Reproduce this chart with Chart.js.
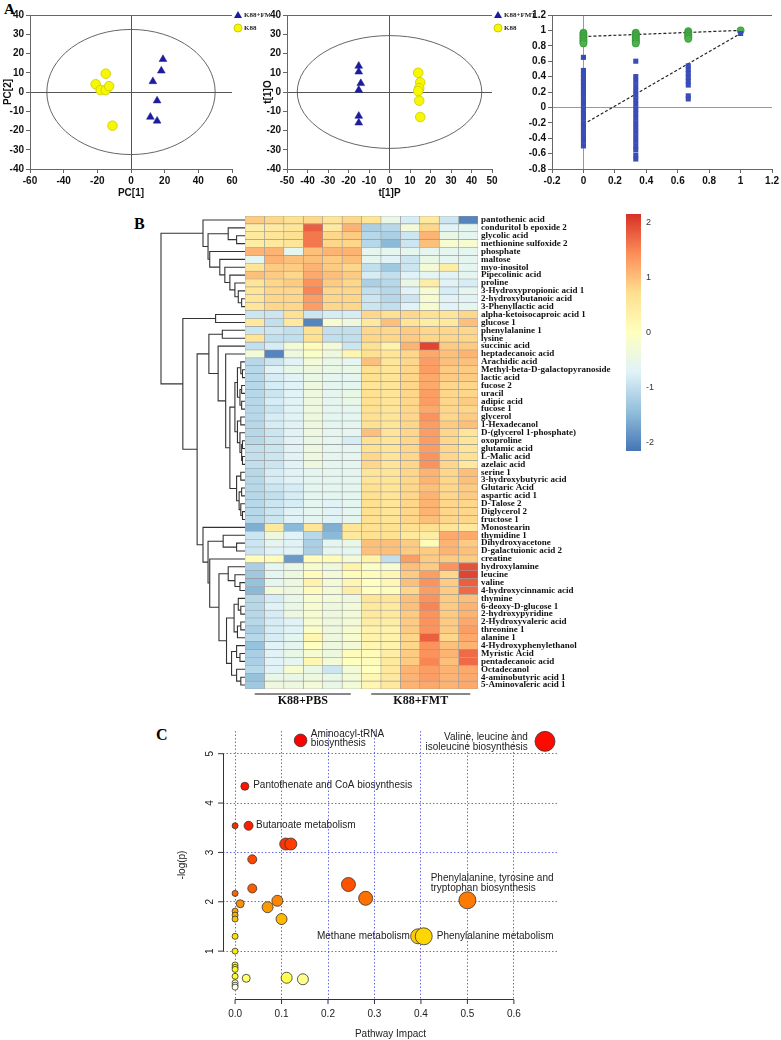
<!DOCTYPE html>
<html>
<head>
<meta charset="utf-8">
<script src="https://cdn.jsdelivr.net/npm/chart.js@4.4.1/dist/chart.umd.min.js"></script>
<style>
  body { margin: 0; background: #fff; }
  #page { position: relative; width: 781px; height: 1040px; overflow: hidden; background: #fff; }
  canvas { position: absolute; }
  .panel { position: absolute; font-family: "Liberation Serif", serif; font-weight: bold; color: #000; line-height: 1; }
</style>
</head>
<body>
<div id="page">
  <div class="panel" style="left:4px;top:2px;font-size:15px;">A</div>
  <div class="panel" style="left:134px;top:216px;font-size:16px;">B</div>
  <div class="panel" style="left:156px;top:727px;font-size:16px;">C</div>
  <canvas id="pca" width="270" height="200" style="left:0;top:0"></canvas>
  <canvas id="opls" width="280" height="200" style="left:260px;top:0"></canvas>
  <canvas id="perm" width="271" height="200" style="left:510px;top:0"></canvas>
  <canvas id="heat" width="500" height="504" style="left:130px;top:206px"></canvas>
  <canvas id="scale" width="70" height="265" style="left:600px;top:200px"></canvas>
  <canvas id="path" width="420" height="325" style="left:150px;top:715px"></canvas>
</div>
<script>
Chart.defaults.animation = false;
Chart.defaults.responsive = false;
Chart.defaults.devicePixelRatio = 1;
Chart.defaults.events = [];
Chart.defaults.font.family = "'Liberation Sans', Arial, sans-serif";
Chart.defaults.plugins.legend.display = false;
Chart.defaults.plugins.tooltip.enabled = false;

// ---- Panel A: PCA scores [PC1, PC2]
const pcaFmt = [[19, 17], [18, 11], [13, 5.5], [15.5, -4.5], [11.5, -13], [15.5, -15]];
const pcaK88 = [[-21, 4], [-15, 9.5], [-18, 1], [-15, 1], [-13, 3], [-11, -17.5]];

// OPLS-DA scores [t1P, t1O]
const oplsFmt = [[-15, 13.5], [-15, 10.5], [-14, 4.5], [-15, 1], [-15, -12.5], [-15, -16]];
const oplsK88 = [[14, 10], [15, 5], [14.5, 2], [14, 0.5], [14.5, -4.5], [15, -13]];

// permutation test
const permX = [0, 0.333, 0.667, 1];
const permR2 = [
  [0.97, 0.95, 0.93, 0.91, 0.89, 0.87, 0.85, 0.83],
  [0.97, 0.95, 0.93, 0.91, 0.89, 0.87, 0.85, 0.83],
  [0.99, 0.97, 0.95, 0.93, 0.91, 0.89],
  [1.0]
];
const permQ2 = [
  [0.65, 0.48, 0.43, 0.38, 0.33, 0.28, 0.22, 0.16, 0.10, 0.04, -0.02, -0.08, -0.14, -0.20, -0.26, -0.32, -0.38, -0.44, -0.50],
  [0.60, 0.40, 0.34, 0.28, 0.22, 0.16, 0.10, 0.04, -0.02, -0.08, -0.14, -0.20, -0.26, -0.32, -0.38, -0.44, -0.50, -0.55, -0.62, -0.67],
  [0.54, 0.49, 0.44, 0.39, 0.34, 0.29, 0.15, 0.11],
  [0.96]
];
const r2Fit = [[0, 0.92], [1, 1.0]];
const q2Fit = [[0, -0.22], [1, 0.96]];

// ---- Panel B: heatmap
const metabolites = [
  'pantothenic acid', 'conduritol b epoxide 2', 'glycolic acid', 'methionine sulfoxide 2', 'phosphate',
  'maltose', 'myo-inositol', 'Pipecolinic acid', 'proline', '3-Hydroxypropionic acid 1',
  '2-hydroxybutanoic acid', '3-Phenyllactic acid', 'alpha-ketoisocaproic acid 1', 'glucose 1', 'phenylalanine 1',
  'lysine', 'succinic acid', 'heptadecanoic acid', 'Arachidic acid', 'Methyl-beta-D-galactopyranoside',
  'lactic acid', 'fucose 2', 'uracil', 'adipic acid', 'fucose 1',
  'glycerol', '1-Hexadecanol', 'D-(glycerol 1-phosphate)', 'oxoproline', 'glutamic acid',
  'L-Malic acid', 'azelaic acid', 'serine 1', '3-hydroxybutyric acid', 'Glutaric Acid',
  'aspartic acid 1', 'D-Talose 2', 'Diglycerol 2', 'fructose 1', 'Monostearin',
  'thymidine 1', 'Dihydroxyacetone', 'D-galactuionic acid 2', 'creatine', 'hydroxylamine',
  'leucine', 'valine', '4-hydroxycinnamic acid', 'thymine', '6-deoxy-D-glucose 1',
  '2-hydroxypyridine', '2-Hydroxyvaleric acid', 'threonine 1', 'alanine 1', '4-Hydroxyphenylethanol',
  'Myristic Acid', 'pentadecanoic acid', 'Octadecanol', '4-aminobutyric acid 1', '5-Aminovaleric acid 1'
];
const samples = ['PBS1', 'PBS2', 'PBS3', 'PBS4', 'PBS5', 'PBS6', 'FMT1', 'FMT2', 'FMT3', 'FMT4', 'FMT5', 'FMT6'];
const heatValues = [
  [0.9, 0.8, 0.7, 0.8, 0.6, 0.8, 0.6, -0.5, -0.8, 0.5, -0.9, -2.0],
  [0.4, 0.5, 0.6, 1.8, 0.5, 1.1, -1.2, -1.1, -0.3, 0.8, -0.7, -0.6],
  [0.5, 0.6, 0.7, 1.6, 0.8, 0.9, -1.1, -1.2, -0.9, 1.1, -0.5, -0.6],
  [0.4, 0.5, 0.6, 1.6, 0.8, 0.8, -1.1, -1.5, -0.9, 1.0, -0.2, -0.2],
  [1.1, 1.1, -0.6, 1.0, 1.1, 1.1, -0.6, -0.6, -0.6, -0.6, -0.6, -0.6],
  [-0.6, 1.1, 1.0, 1.0, 0.9, 1.0, -0.6, -0.7, -0.9, -0.5, -0.6, -0.6],
  [0.6, 0.9, 0.9, 1.1, 0.9, 0.8, -1.0, -1.3, -0.9, -0.3, 0.4, -0.6],
  [1.0, 0.9, 0.8, 1.2, 1.0, 0.9, -0.8, -1.0, -0.7, -0.6, -0.7, -0.6],
  [0.6, 0.8, 0.9, 1.4, 0.9, 0.8, -1.2, -1.1, -0.5, 0.4, -0.7, -0.8],
  [0.6, 0.8, 0.8, 1.5, 0.8, 0.8, -1.0, -1.1, -0.7, -0.2, -0.8, -0.6],
  [0.6, 0.8, 0.8, 1.3, 0.8, 0.8, -0.9, -1.1, -0.9, -0.2, -0.7, -0.7],
  [0.6, 0.8, 0.8, 1.3, 0.8, 0.8, -0.9, -1.0, -0.7, -0.2, -0.7, -0.6],
  [-0.9, -0.9, 0.7, -0.9, -0.8, -0.8, 0.8, 0.7, 0.8, 0.7, 0.6, 0.8],
  [0.5, -1.0, 0.5, -2.0, -0.2, -0.4, 0.5, 1.0, 0.6, 0.4, 0.5, 1.0],
  [-0.9, -0.9, -1.0, 0.7, -1.0, -1.0, 0.8, 0.8, 0.9, 0.8, 0.8, 0.8],
  [0.6, -1.0, -1.0, 0.7, -1.0, -1.0, 0.8, 0.8, 0.9, 0.8, 0.8, 0.8],
  [-1.0, -0.8, -0.3, 0.1, -0.3, -0.9, 0.7, 0.3, 1.1, 2.0, 0.9, 0.9],
  [-0.3, -2.0, -0.4, -0.1, -0.4, 0.2, 0.7, 0.6, 0.8, 1.2, 1.0, 1.1],
  [-1.1, -0.9, -0.7, -0.3, -0.5, -0.6, 1.0, 0.6, 0.8, 1.3, 1.0, 1.0],
  [-1.1, -0.7, -0.5, -0.4, -0.5, -0.5, 0.7, 0.6, 0.8, 1.3, 0.9, 0.9],
  [-1.1, -0.8, -0.7, -0.5, -0.6, -0.6, 0.7, 0.6, 0.8, 1.2, 0.9, 0.9],
  [-1.1, -0.8, -0.7, -0.4, -0.6, -0.6, 0.6, 0.6, 0.8, 1.2, 0.8, 0.8],
  [-1.1, -0.9, -0.7, -0.4, -0.6, -0.5, 0.7, 0.6, 0.8, 1.3, 0.8, 0.8],
  [-1.1, -0.8, -0.7, -0.4, -0.6, -0.5, 0.7, 0.6, 0.8, 1.3, 0.8, 0.9],
  [-1.1, -0.9, -0.7, -0.4, -0.6, -0.6, 0.7, 0.6, 0.8, 1.2, 0.8, 0.8],
  [-1.1, -0.8, -0.7, -0.4, -0.6, -0.6, 0.7, 0.6, 0.8, 1.4, 0.8, 0.9],
  [-1.1, -0.8, -0.7, -0.4, -0.6, -0.6, 0.7, 0.6, 0.8, 1.3, 0.9, 1.0],
  [-1.1, -0.9, -0.7, -0.4, -0.6, -0.6, 1.0, 0.6, 0.8, 1.3, 0.8, 0.6],
  [-1.1, -0.9, -0.7, -0.5, -0.6, -0.8, 0.7, 0.6, 0.8, 1.3, 0.8, 0.6],
  [-1.0, -0.9, -0.7, -0.4, -0.6, -0.6, 0.7, 0.6, 0.8, 1.3, 0.8, 0.6],
  [-1.0, -0.9, -0.7, -0.4, -0.6, -0.6, 0.8, 0.6, 0.8, 1.4, 0.8, 0.7],
  [-1.0, -0.9, -0.7, -0.4, -0.6, -0.6, 0.8, 0.6, 0.8, 1.4, 0.8, 0.5],
  [-1.1, -0.8, -0.7, -0.6, -0.6, -0.6, 0.6, 0.6, 0.8, 1.1, 0.8, 1.0],
  [-1.1, -0.8, -0.7, -0.6, -0.6, -0.6, 0.6, 0.6, 0.8, 1.1, 0.8, 1.0],
  [-1.1, -0.9, -0.8, -0.6, -0.6, -0.6, 0.7, 0.6, 0.8, 1.0, 0.8, 0.9],
  [-1.1, -1.0, -0.8, -0.6, -0.6, -0.6, 0.7, 0.6, 0.8, 1.1, 0.8, 0.9],
  [-1.1, -0.9, -0.8, -0.6, -0.7, -0.6, 0.7, 0.6, 0.8, 1.1, 0.8, 0.8],
  [-1.1, -0.9, -0.7, -0.6, -0.7, -0.6, 0.7, 0.6, 0.8, 1.1, 0.8, 0.8],
  [-1.1, -0.9, -0.7, -0.6, -0.7, -0.6, 0.7, 0.6, 0.8, 1.0, 0.8, 0.8],
  [-1.6, 0.5, -1.5, 0.6, -1.6, 0.6, 0.7, 0.7, 0.7, 0.7, 0.6, 0.5],
  [-0.9, -0.4, -0.7, -1.1, -1.5, 0.5, 0.7, 0.7, 0.5, 0.4, 1.2, 1.2],
  [-0.9, -0.6, -0.7, -1.2, -0.6, -0.5, 1.0, 1.0, 0.9, 0.1, 1.1, 0.9],
  [-0.9, -0.7, -0.7, -1.2, -0.6, -0.6, 1.0, 1.0, 0.9, 0.9, 1.1, 1.0],
  [0.1, 0.1, -1.8, 0.1, 0.1, -0.3, 0.3, -1.0, 1.3, 0.9, 0.9, 0.9],
  [-1.2, -0.6, -0.5, -0.2, -0.4, 0.3, -0.1, -0.2, 1.0, 0.9, 1.4, 1.9],
  [-1.3, -0.6, -0.4, 0.1, -0.3, 0.1, 0.1, 0.2, 0.9, 1.3, 0.8, 2.0],
  [-1.4, -0.6, -0.4, 0.3, -0.3, 0.2, 0.0, 0.2, 1.0, 1.4, 0.9, 1.8],
  [-1.5, -0.3, -0.4, 0.1, -0.3, 0.4, 0.0, 0.1, 0.8, 1.3, 0.9, 1.7],
  [-1.1, -0.8, -0.5, -0.2, -0.3, -0.4, 0.6, 0.6, 1.0, 1.4, 0.9, 1.0],
  [-1.1, -0.7, -0.5, -0.2, -0.4, -0.3, 0.5, 0.5, 1.0, 1.5, 0.9, 1.1],
  [-1.1, -0.8, -0.4, -0.2, -0.4, -0.3, 0.5, 0.5, 0.9, 1.4, 0.9, 1.1],
  [-1.1, -0.8, -0.7, -0.2, -0.4, -0.3, 0.4, 0.4, 0.9, 1.4, 0.9, 1.2],
  [-1.2, -0.8, -0.7, -0.1, -0.4, -0.2, 0.3, 0.3, 0.9, 1.4, 0.9, 1.3],
  [-1.1, -0.8, -0.6, 0.2, -0.4, -0.2, 0.3, 0.3, 0.8, 1.8, 0.8, 1.2],
  [-1.4, -0.7, -0.6, 0.0, -0.4, -0.3, 0.2, 0.3, 0.8, 1.4, 1.0, 1.1],
  [-1.2, -0.7, -0.5, -0.2, -0.4, 0.1, 0.1, 0.4, 0.9, 1.4, 1.1, 1.7],
  [-1.2, -0.7, -0.6, 0.2, -0.3, 0.0, 0.1, 0.5, 0.9, 1.5, 1.0, 1.7],
  [-1.1, -0.7, -0.2, -0.5, -0.9, -0.3, 0.0, 0.5, 1.1, 1.3, 1.1, 1.2],
  [-1.4, -0.5, -0.5, -0.4, -0.5, -0.3, 0.2, 0.5, 1.1, 1.3, 1.1, 1.2],
  [-1.3, -0.4, -0.4, -0.3, -0.5, -0.3, 0.2, 0.5, 1.1, 1.2, 1.1, 1.2]
];
// row dendrogram: [height, left, right], leaves are row indexes
const rowTree = [10,
  [5.0, 0, [4.4, [2.0, 1, [1.0, 2, 3]], [4.2, 4, [3.0, 5, [2.4, 6, [1.8, 7, [1.2, 8, [0.8, 9, [0.4, 10, 11]]]]]]]]],
  [7.4, [3.5, 12, 13],
    [5.7,
      [4.3, [2.7, 14, 15], [3.2, 16, [2.3, 17,
        [1.8,
          [1.2, [0.9, [0.5, 18, [0.3, 19, 20]], [0.6, [0.4, 21, 22], [0.4, 23, 24]]],
                [0.9, [0.5, 25, 26], [0.6, 27, [0.4, [0.3, 28, 29], [0.3, 30, 31]]]]],
          [1.0, [0.5, 32, 33], [0.7, [0.4, 34, 35], [0.5, 36, [0.3, 37, 38]]]]]]]],
      [5.0, 39, [4.4, [2.6, 40, [1.0, 41, 42]], [4.2, 43,
        [3.1, [2.0, 44, [1.2, 45, [0.6, 46, 47]]],
          [2.2, [1.3, [0.8, 48, [0.5, 49, 50]], [0.9, [0.5, 51, 52], 53]],
                [1.6, [1.0, 54, [0.6, 55, 56]], [1.0, 57, [0.5, 58, 59]]]]]]]]]]];
const groups = [
  { name: 'K88+PBS', from: 0.5, to: 5.45 },
  { name: 'K88+FMT', from: 6.5, to: 11.6 }
];
const heatStops = ['#4575b4', '#91bfdb', '#e0f3f8', '#ffffbf', '#fee090', '#fc8d59', '#d73027'];
const heatMin = -2.16, heatMax = 2.16;
const scaleTicks = [-2, -1, 0, 1, 2];

// ---- Panel C: pathway analysis
const pathX = [0.667, 0.141, 0.021, 0.029, 0.0, 0.109, 0.120, 0.037, 0.244, 0.037, 0.0, 0.281, 0.500, 0.091, 0.011, 0.070, 0.0,
  0.0, 0.100, 0.0, 0.394, 0.406, 0.0, 0.0, 0.0, 0.0, 0.0, 0.0, 0.111, 0.024, 0.146, 0.0, 0.0, 0.0];
const pathY = [5.25, 5.27, 4.34, 3.54, 3.54, 3.17, 3.17, 2.86, 2.35, 2.27, 2.17, 2.07, 2.03, 2.02, 1.96, 1.89, 1.81,
  1.73, 1.65, 1.65, 1.30, 1.30, 1.30, 1.0, 0.72, 0.67, 0.63, 0.49, 0.46, 0.45, 0.43, 0.36, 0.31, 0.27];
const pathSize = [10, 6.3, 4, 4.5, 3, 6, 6, 4.5, 7, 4.5, 3, 7, 8.5, 5.5, 4, 5.5, 3,
  3, 5.5, 3, 7.5, 8.5, 3, 3, 3, 3, 3, 3, 5.5, 4, 5.5, 3, 3, 3];
const pathLabels = [
  { lines: ['Aminoacyl-tRNA', 'biosynthesis'], x: 0.163, y: 5.40, align: 'left' },
  { lines: ['Valine, leucine and', 'isoleucine biosynthesis'], x: 0.630, y: 5.33, align: 'right' },
  { lines: ['Pantothenate and CoA biosynthesis'], x: 0.039, y: 4.37, align: 'left' },
  { lines: ['Butanoate metabolism'], x: 0.045, y: 3.55, align: 'left' },
  { lines: ['Phenylalanine, tyrosine and', 'tryptophan biosynthesis'], x: 0.421, y: 2.47, align: 'left' },
  { lines: ['Methane metabolism'], x: 0.376, y: 1.30, align: 'right' },
  { lines: ['Phenylalanine metabolism'], x: 0.434, y: 1.30, align: 'left' }
];

// ---------- helpers
function hexRgb(h) {
  return [parseInt(h.slice(1, 3), 16), parseInt(h.slice(3, 5), 16), parseInt(h.slice(5, 7), 16)];
}
function heatColor(v) {
  const n = heatStops.length - 1;
  let t = (v - heatMin) / (heatMax - heatMin) * n;
  t = Math.max(0, Math.min(n, t));
  const i = Math.min(Math.floor(t), n - 1);
  const f = t - i;
  const a = hexRgb(heatStops[i]), b = hexRgb(heatStops[i + 1]);
  return 'rgb(' + a.map((c, k) => Math.round(c + (b[k] - c) * f)).join(',') + ')';
}
// same as R heat.colors(n)
function heatColors(n) {
  const j = Math.floor(n / 4), i = n - j;
  const out = [];
  for (let k = 0; k < i; k++) {
    const g = i > 1 ? k / (i - 1) : 0;
    out.push('rgb(255,' + Math.round(255 * g) + ',0)');
  }
  for (let k = 0; k < j; k++) {
    const s = j > 1 ? (1 - 1 / (2 * j)) - k * ((1 - 1 / j) / (j - 1)) : 0.5;
    out.push('rgb(255,255,' + Math.round(255 * (1 - s)) + ')');
  }
  return out;
}
// "1.2", "1", "0.8", "0", "-0.2"
const shortNum = v => String(Math.round(v * 10) / 10 + 0);

const axisFont = { family: "'Liberation Sans', Arial, sans-serif", size: 10, weight: 'bold' };

// ---------- Panel A decorations
const scoreDecor = {
  id: 'scoreDecor',
  afterDraw(chart, args, opts) {
    const { ctx, chartArea: a, scales: { x, y } } = chart;
    ctx.save();
    ctx.strokeStyle = '#666';
    ctx.lineWidth = 1;
    ctx.beginPath();
    ctx.moveTo(a.left, a.top + 0.5);
    ctx.lineTo(a.right, a.top + 0.5);
    ctx.stroke();
    if (opts.ellipse) {
      const cx = x.getPixelForValue(0), cy = y.getPixelForValue(0);
      const rx = x.getPixelForValue(opts.ellipse[0]) - cx;
      const ry = cy - y.getPixelForValue(opts.ellipse[1]);
      ctx.strokeStyle = '#555';
      ctx.lineWidth = 0.9;
      ctx.beginPath();
      ctx.ellipse(cx, cy, rx, ry, 0, 0, Math.PI * 2);
      ctx.stroke();
    }
    if (opts.legend) {
      const lx = a.right + 6, ly = a.top;
      ctx.fillStyle = '#1c1c9c';
      ctx.beginPath();
      ctx.moveTo(lx, ly - 4);
      ctx.lineTo(lx + 4, ly + 3);
      ctx.lineTo(lx - 4, ly + 3);
      ctx.closePath();
      ctx.fill();
      ctx.fillStyle = '#f7f700';
      ctx.strokeStyle = '#c9c900';
      ctx.beginPath();
      ctx.arc(lx, ly + 13, 4, 0, Math.PI * 2);
      ctx.fill();
      ctx.stroke();
      ctx.fillStyle = '#222';
      ctx.font = "bold 7px 'Liberation Serif', serif";
      ctx.textBaseline = 'middle';
      ctx.fillText('K88+FMT', lx + 6, ly);
      ctx.fillText('K88', lx + 6, ly + 13);
    }
    ctx.restore();
  }
};

function linAxis(min, max, step, title, fit, zeroColor, fmt) {
  const ax = {
    type: 'linear', min, max,
    ticks: { stepSize: step, font: axisFont, color: '#111', padding: 2 },
    grid: {
      color: c => (c.tick && Math.abs(c.tick.value) < 1e-9) ? zeroColor : 'rgba(0,0,0,0)',
      tickColor: '#666', tickLength: 4, lineWidth: 1
    },
    border: { display: true, color: '#666', width: 1 },
    title: { display: !!title, text: title, font: axisFont, color: '#111', padding: { top: 2, bottom: 1 } },
    afterFit: fit
  };
  if (fmt) ax.ticks.callback = fmt;
  return ax;
}

function scoreChart(id, fmt, k88, xr, yTitle, xTitle, yWidth, padRight, ellipse) {
  new Chart(document.getElementById(id), {
    type: 'scatter',
    data: {
      datasets: [
        { label: 'K88+FMT', data: fmt.map(p => ({ x: p[0], y: p[1] })), pointStyle: 'triangle', radius: 4.5,
          backgroundColor: '#1c1c9c', borderColor: '#1c1c9c', borderWidth: 0.5 },
        { label: 'K88', data: k88.map(p => ({ x: p[0], y: p[1] })), pointStyle: 'circle', radius: 4.8,
          backgroundColor: '#f7f700', borderColor: '#c9c900', borderWidth: 0.8 }
      ]
    },
    options: {
      layout: { padding: { top: 15, right: padRight, left: 0, bottom: 0 } },
      scales: {
        x: linAxis(xr[0], xr[1], xr[2], xTitle, s => { s.height = 31; }, '#555'),
        y: linAxis(-40, 40, 10, yTitle, s => { s.width = yWidth; }, '#555')
      },
      plugins: { scoreDecor: { ellipse, legend: true } }
    },
    plugins: [scoreDecor]
  });
}

scoreChart('pca', pcaFmt, pcaK88, [-60, 60, 20], 'PC[2]', 'PC[1]', 30, 38, [50, 32.5]);
scoreChart('opls', oplsFmt, oplsK88, [-50, 50, 10], 't[1]O', 't[1]P', 27, 48, [45, 29.3]);

// permutation plot
const r2Points = [], q2Points = [];
permX.forEach((x, i) => {
  permR2[i].forEach(v => r2Points.push({ x, y: v }));
  permQ2[i].forEach(v => q2Points.push({ x, y: v }));
});
new Chart(document.getElementById('perm'), {
  type: 'scatter',
  data: {
    datasets: [
      { label: 'Q2', data: q2Points, pointStyle: 'rect', radius: 3.6, backgroundColor: '#3a4cb8', borderColor: '#3a4cb8', borderWidth: 0 },
      { label: 'R2', data: r2Points, pointStyle: 'circle', radius: 3.6, backgroundColor: '#4cb34c', borderColor: '#2f8f2f', borderWidth: 0.6 },
      { type: 'line', label: 'R2 fit', data: r2Fit.map(p => ({ x: p[0], y: p[1] })), borderColor: '#222', borderWidth: 1.2,
        borderDash: [3, 2], pointRadius: 0, fill: false },
      { type: 'line', label: 'Q2 fit', data: q2Fit.map(p => ({ x: p[0], y: p[1] })), borderColor: '#222', borderWidth: 1.2,
        borderDash: [3, 2], pointRadius: 0, fill: false }
    ]
  },
  options: {
    layout: { padding: { top: 15, right: 8, left: 0, bottom: 0 } },
    scales: {
      x: linAxis(-0.2, 1.2, 0.2, '', s => { s.height = 31; }, '#999', shortNum),
      y: linAxis(-0.8, 1.2, 0.2, '', s => { s.width = 42; }, '#999', shortNum)
    },
    plugins: { scoreDecor: { legend: false } }
  },
  plugins: [scoreDecor]
});

// ---------- Panel B: heatmap
const dendroUnit = 8.4;
const heatDecor = {
  id: 'heatDecor',
  afterDraw(chart) {
    const { ctx, chartArea: a, scales: { x, y } } = chart;
    ctx.save();
    ctx.strokeStyle = '#333';
    ctx.lineWidth = 1.1;
    const walk = node => {
      if (typeof node === 'number') return { x: a.left, y: y.getPixelForValue(node) };
      const l = walk(node[1]), r = walk(node[2]);
      const nx = a.left - node[0] * dendroUnit;
      ctx.beginPath();
      ctx.moveTo(l.x, l.y);
      ctx.lineTo(nx, l.y);
      ctx.lineTo(nx, r.y);
      ctx.lineTo(r.x, r.y);
      ctx.stroke();
      return { x: nx, y: (l.y + r.y) / 2 };
    };
    walk(rowTree);
    ctx.strokeStyle = '#111';
    ctx.lineWidth = 1.2;
    ctx.fillStyle = '#111';
    ctx.font = "bold 12px 'Liberation Serif', serif";
    ctx.textAlign = 'center';
    ctx.textBaseline = 'middle';
    groups.forEach(g => {
      const x1 = x.getPixelForValue(g.from), x2 = x.getPixelForValue(g.to);
      ctx.beginPath();
      ctx.moveTo(x1, a.bottom + 5);
      ctx.lineTo(x2, a.bottom + 5);
      ctx.stroke();
      ctx.fillText(g.name, (x1 + x2) / 2, a.bottom + 12);
    });
    ctx.restore();
  }
};

new Chart(document.getElementById('heat'), {
  type: 'bar',
  data: {
    labels: metabolites,
    datasets: samples.map((s, j) => ({
      label: s,
      data: metabolites.map(() => [j, j + 1]),
      backgroundColor: heatValues.map(row => heatColor(row[j])),
      borderColor: '#9a9a9a',
      borderWidth: 0.6,
      borderSkipped: false,
      grouped: false,
      barPercentage: 1,
      categoryPercentage: 1
    }))
  },
  options: {
    indexAxis: 'y',
    layout: { padding: { top: 10, left: 115, right: 0, bottom: 21 } },
    scales: {
      x: { type: 'linear', min: 0, max: 12, display: false },
      y: {
        position: 'right',
        grid: { display: false, drawTicks: false },
        border: { display: false },
        ticks: { autoSkip: false, padding: 3, color: '#111',
          font: { family: "'Liberation Serif', serif", size: 9, weight: 'bold' } },
        afterFit: s => { s.width = 152; }
      }
    }
  },
  plugins: [heatDecor]
});

// colour key
new Chart(document.getElementById('scale'), {
  type: 'bar',
  data: {
    labels: [''],
    datasets: [{
      data: [[heatMin, heatMax]],
      barPercentage: 1, categoryPercentage: 1, borderWidth: 0,
      backgroundColor: c => {
        const a = c.chart.chartArea;
        if (!a) return heatStops[3];
        const g = c.chart.ctx.createLinearGradient(0, a.bottom, 0, a.top);
        heatStops.forEach((col, i) => g.addColorStop(i / (heatStops.length - 1), col));
        return g;
      }
    }]
  },
  options: {
    layout: { padding: { top: 14, left: 26, right: 0, bottom: 14 } },
    scales: {
      x: { display: false },
      y: {
        position: 'right', min: heatMin, max: heatMax,
        afterBuildTicks: s => { s.ticks = scaleTicks.map(v => ({ value: v })); },
        grid: { display: false, drawTicks: false },
        border: { display: false },
        ticks: { padding: 5, color: '#333', font: { size: 9 } },
        afterFit: s => { s.width = 29; }
      }
    }
  }
});

// ---------- Panel C: pathway bubble chart
const rankOrder = pathY.map((v, i) => i).sort((a, b) => pathY[b] - pathY[a]);
const heatPal = heatColors(pathY.length);
const bubbleColors = [];
rankOrder.forEach((idx, k) => { bubbleColors[idx] = heatPal[k]; });

const pathDecor = {
  id: 'pathDecor',
  afterDraw(chart) {
    const { ctx, chartArea: a, scales: { x, y } } = chart;
    ctx.save();
    ctx.strokeStyle = '#333';
    ctx.lineWidth = 1;
    const yt = y.ticks.map(t => y.getPixelForValue(t.value));
    const xt = x.ticks.map(t => x.getPixelForValue(t.value));
    ctx.beginPath();
    ctx.moveTo(a.left + 0.5, Math.min(...yt));
    ctx.lineTo(a.left + 0.5, Math.max(...yt));
    yt.forEach(p => { ctx.moveTo(a.left + 0.5, p); ctx.lineTo(a.left - 5, p); });
    ctx.moveTo(Math.min(...xt), a.bottom + 0.5);
    ctx.lineTo(Math.max(...xt), a.bottom + 0.5);
    xt.forEach(p => { ctx.moveTo(p, a.bottom + 0.5); ctx.lineTo(p, a.bottom + 5); });
    ctx.stroke();
    ctx.fillStyle = '#222';
    ctx.font = "10px 'Liberation Sans', Arial, sans-serif";
    ctx.textBaseline = 'middle';
    pathLabels.forEach(l => {
      ctx.textAlign = l.align;
      const px = x.getPixelForValue(l.x), py = y.getPixelForValue(l.y);
      l.lines.forEach((t, i) => ctx.fillText(t, px, py + i * 9.5));
    });
    ctx.restore();
  }
};

new Chart(document.getElementById('path'), {
  type: 'bubble',
  data: {
    datasets: [{
      data: pathX.map((x, i) => ({ x, y: pathY[i], r: pathSize[i] })),
      backgroundColor: bubbleColors,
      borderColor: '#333',
      borderWidth: 0.8
    }]
  },
  options: {
    clip: false,
    layout: { padding: { top: 15, left: 22, right: 12, bottom: 0 } },
    scales: {
      x: {
        type: 'linear', min: -0.026, max: 0.695,
        ticks: { stepSize: 0.1, includeBounds: false, padding: 9, color: '#222', font: { size: 10 },
          callback: v => v.toFixed(1) },
        grid: { color: '#4545e0', lineWidth: 0.8, drawTicks: false },
        border: { display: false, dash: [1.5, 2] },
        title: { display: true, text: 'Pathway Impact', color: '#222', font: { size: 10 }, padding: { top: 2, bottom: 0 } },
        afterFit: s => { s.height = 41; }
      },
      y: {
        type: 'linear', min: 0.03, max: 5.46,
        ticks: { stepSize: 1, includeBounds: false, padding: 10, color: '#222', font: { size: 10 },
          minRotation: 90, maxRotation: 90, crossAlign: 'center' },
        grid: { color: '#4545e0', lineWidth: 0.8, drawTicks: false },
        border: { display: false, dash: [1.5, 2] },
        title: { display: true, text: '-log(p)', color: '#222', font: { size: 10 }, padding: { top: 4, bottom: 4 } },
        afterFit: s => { s.width = 51; }
      }
    }
  },
  plugins: [pathDecor]
});
</script>
</body>
</html>
